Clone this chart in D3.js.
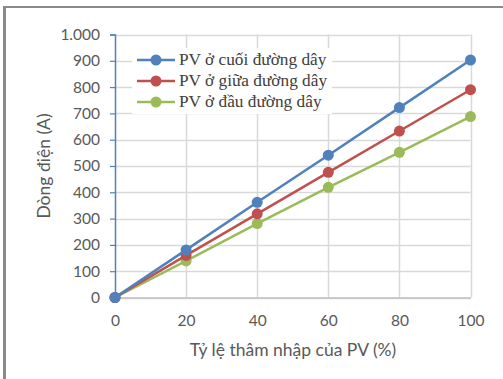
<!DOCTYPE html>
<html><head><meta charset="utf-8">
<script src="https://cdn.jsdelivr.net/npm/d3@7"></script>
<style>body{margin:0;background:#fff}</style>
</head><body>
<svg id="c" width="503" height="379"></svg>
<script>
const xValues = [0, 20, 40, 60, 80, 100];
const seriesNames = ["PV ở cuối đường dây", "PV ở giữa đường dây", "PV ở đầu đường dây"];
const cuoi = [0, 181, 362, 541, 722, 903];
const giua = [0, 160, 318, 476, 633, 790];
const dau  = [0, 139, 281, 419, 552, 688];
const colors = ["#4F81BD", "#C0504D", "#9BBB59"];
const yTicks = [0,100,200,300,400,500,600,700,800,900,1000];
const yTickLabels = ["0","100","200","300","400","500","600","700","800","900","1.000"];
const xTitle = "Tỷ lệ thâm nhập của PV (%)";
const yTitle = "Dòng điện (A)";

const svg = d3.select("#c");
const x = d3.scaleLinear().domain([0,100]).range([115,470.5]);
const y = d3.scaleLinear().domain([0,1000]).range([297.5,34.5]);
const tickFont = "Lato, 'Noto Sans', sans-serif";

// frame
svg.append("line").attr("x1",4.5).attr("x2",4.5).attr("y1",6).attr("y2",379).attr("stroke","#8a8a8a").attr("stroke-width",3);
svg.append("line").attr("x1",3).attr("x2",503).attr("y1",7).attr("y2",7).attr("stroke","#8a8a8a").attr("stroke-width",2);

// grid
const g = svg.append("g");
g.selectAll("line.h").data(yTicks).join("line")
  .attr("x1",x(0)).attr("x2",x(100)).attr("y1",d=>Math.round(y(d))+0.5).attr("y2",d=>Math.round(y(d))+0.5)
  .attr("stroke","#d9d9d9").attr("stroke-width",1.5);
g.selectAll("line.v").data(xValues.slice(1)).join("line")
  .attr("x1",d=>Math.round(x(d))+0.5).attr("x2",d=>Math.round(x(d))+0.5).attr("y1",y(1000)).attr("y2",y(0))
  .attr("stroke","#d9d9d9").attr("stroke-width",1.5);

// y axis
const yAxis = d3.axisLeft(y).tickValues(yTicks).tickSize(5).tickPadding(10)
  .tickFormat((d,i)=>yTickLabels[i]);
const ya = svg.append("g").attr("transform",`translate(${x(0)},0)`).call(yAxis);
ya.select(".domain").attr("stroke","#4F81BD").attr("stroke-width",1.5);
ya.selectAll(".tick line").attr("stroke","#4F81BD").attr("stroke-width",1.2);
ya.selectAll("text").attr("font-family",tickFont).attr("font-size",15.5).attr("fill","#595959");

// x axis
const xAxis = d3.axisBottom(x).tickValues(xValues).tickSize(0).tickPadding(17);
const xa = svg.append("g").attr("transform",`translate(0,${y(0)})`).call(xAxis);
xa.select(".domain").attr("stroke","#bfbfbf").attr("stroke-width",1.5);
xa.selectAll("text").attr("font-family",tickFont).attr("font-size",15.5).attr("fill","#595959");

// titles
svg.append("text").attr("x",293).attr("y",356).attr("text-anchor","middle")
  .attr("font-family",tickFont).attr("font-size",17.5).attr("fill","#595959").text(xTitle);
svg.append("text").attr("transform","translate(50,166) rotate(-90)").attr("text-anchor","middle")
  .attr("font-family",tickFont).attr("font-size",17.5).attr("fill","#595959").text(yTitle);

// series
const data = [cuoi, giua, dau];
const line = d3.line().x((d,i)=>x(xValues[i])).y(d=>y(d));
data.slice().reverse().forEach((s,ri)=>{
  const k = data.length-1-ri;
  svg.append("path").attr("d",line(s)).attr("fill","none").attr("stroke",colors[k]).attr("stroke-width",2.5);
  svg.selectAll(null).data(s).join("circle").attr("cx",(d,i)=>x(xValues[i])).attr("cy",d=>y(d))
    .attr("r",5.5).attr("fill",colors[k]);
});

// legend
const lg = svg.append("g");
lg.append("rect").attr("x",132).attr("y",48).attr("width",200).attr("height",66).attr("fill","#fff");
seriesNames.forEach((n,i)=>{
  const yy = 60 + i*21;
  lg.append("line").attr("x1",137).attr("x2",175).attr("y1",yy).attr("y2",yy).attr("stroke",colors[i]).attr("stroke-width",2.5);
  lg.append("circle").attr("cx",156).attr("cy",yy).attr("r",5.5).attr("fill",colors[i]);
  lg.append("text").attr("x",179).attr("y",yy+5).attr("font-family","'Liberation Serif', 'Times New Roman', serif")
    .attr("font-size",17.3).attr("fill","#404040").text(n);
});
</script>
</body></html>
